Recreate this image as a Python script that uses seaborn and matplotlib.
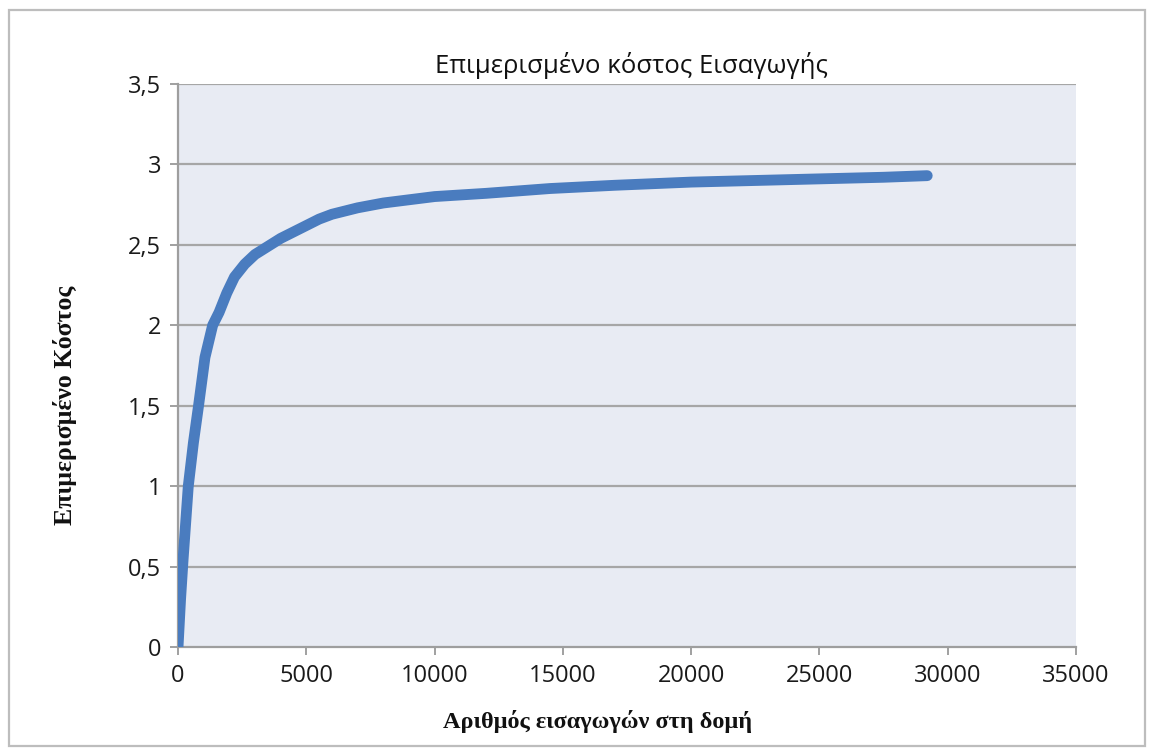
import matplotlib
matplotlib.use("Agg")
import matplotlib.pyplot as plt
import seaborn as sns
import pandas as pd
from matplotlib.patches import Rectangle

# ---- data ----
inserts = [0, 100, 200, 400, 600, 800, 1050, 1350, 1600, 1900, 2200, 2600, 3000,
           3600, 4000, 4500, 5000, 5500, 6000, 6500, 7000, 8000, 9000, 10000,
           12000, 14500, 17000, 20000, 22500, 25000, 27500, 29200]
cost = [0.0, 0.30, 0.55, 1.0, 1.27, 1.5, 1.8, 2.0, 2.08, 2.2, 2.3, 2.38, 2.44,
        2.5, 2.54, 2.58, 2.62, 2.66, 2.69, 2.71, 2.73, 2.76, 2.78, 2.80,
        2.82, 2.85, 2.87, 2.89, 2.90, 2.91, 2.92, 2.93]
y_ticks = [0, 0.5, 1, 1.5, 2, 2.5, 3, 3.5]
y_tick_labels = ["0", "0,5", "1", "1,5", "2", "2,5", "3", "3,5"]
x_ticks = [0, 5000, 10000, 15000, 20000, 25000, 30000, 35000]
x_tick_labels = ["0", "5000", "10000", "15000", "20000", "25000", "30000", "35000"]
title = "Επιμερισμένο κόστος Εισαγωγής"
x_label = "Αριθμός εισαγωγών στη δομή"
y_label = "Επιμερισμένο Κόστος"

df = pd.DataFrame({"x": inserts, "y": cost})

sns.set_theme(style="white")
plt.rcParams["font.family"] = ["Open Sans", "DejaVu Sans"]

fig = plt.figure(figsize=(11.5, 7.49), dpi=100)
ax = fig.add_axes([0.1548, 0.1362, 0.9357 - 0.1548, 0.8879 - 0.1362])
ax.set_facecolor("#E8EBF3")

# outer chart border
fig.patches.append(Rectangle((9 / 1150, 3 / 749), (1145 - 9) / 1150, (739 - 3) / 749,
                             transform=fig.transFigure, fill=False,
                             edgecolor="#BDBDBD", linewidth=1.6))

for yt in y_ticks[1:]:
    ax.axhline(yt, color="#A6A6A6", linewidth=1.6, zorder=1)

sns.lineplot(data=df, x="x", y="y", ax=ax, color="#4A7CBF", linewidth=7.8,
             solid_capstyle="round", solid_joinstyle="round", zorder=3)

ax.set_xlim(0, 35000)
ax.set_ylim(0, 3.5)
ax.set_xticks(x_ticks)
ax.set_xticklabels(x_tick_labels)
ax.set_yticks(y_ticks)
ax.set_yticklabels(y_tick_labels)
ax.tick_params(axis="both", labelsize=17, colors="#1A1A1A", length=6, width=1.3,
               direction="out", pad=6)
ax.tick_params(axis="both", color="#999999")
ax.tick_params(axis="x", bottom=True)
ax.tick_params(axis="y", left=True)

for side in ["top", "right"]:
    ax.spines[side].set_visible(False)
for side in ["left", "bottom"]:
    ax.spines[side].set_color("#9E9E9E")
    ax.spines[side].set_linewidth(1.6)

ax.set_title(title, fontsize=18.5, color="#111111", pad=8, x=0.505)
ax.set_xlabel(x_label, fontsize=17.5, fontweight="bold",
              family=["Liberation Serif", "DejaVu Serif"], color="#111111")
ax.set_ylabel(y_label, fontsize=18.5, fontweight="bold",
              family=["Liberation Serif", "DejaVu Serif"], color="#111111")
ax.xaxis.set_label_coords(0.467, -0.112)
ax.yaxis.set_label_coords(-0.112, 0.43)

fig.savefig("out.png", dpi=100)
